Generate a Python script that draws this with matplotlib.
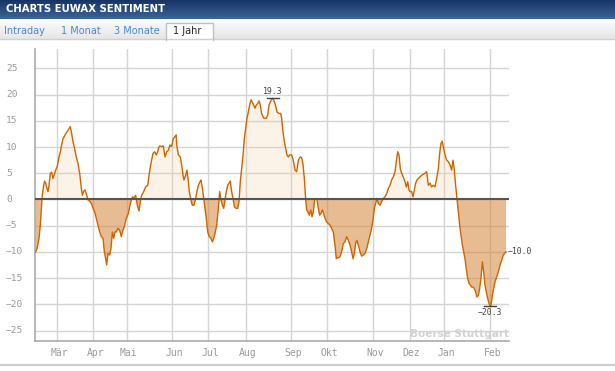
import matplotlib
matplotlib.use('Agg')
import matplotlib.pyplot as plt
import matplotlib.transforms as mtransforms
from matplotlib.colors import LinearSegmentedColormap
from matplotlib.patches import Rectangle
from matplotlib.lines import Line2D
import numpy as np

# days since start of the one-year window
days = [
    0.5, 1.5, 3.1, 4.1, 4.9, 5.6, 6.7, 7.4, 8.2, 9.2,
    10.0, 10.8, 11.8, 12.8, 13.9, 14.9, 15.9, 17.0, 18.5, 19.5,
    20.5, 21.6, 23.1, 24.6, 26.2, 27.2, 28.0, 29.3, 30.5, 31.8,
    33.1, 34.4, 35.7, 36.5, 37.5, 38.5, 39.5, 40.8, 42.1, 43.4,
    44.7, 46.0, 47.2, 48.5, 49.8, 51.1, 52.4, 53.4, 54.4, 55.2,
    56.2, 57.5, 58.5, 59.6, 60.6, 61.6, 62.6, 63.9, 65.2, 66.5,
    67.3, 68.8, 70.3, 71.9, 73.4, 75.0, 76.2, 77.5, 78.8, 80.1,
    81.1, 82.1, 83.7, 85.2, 86.8, 87.8, 88.8, 89.8, 90.9, 92.2,
    93.4, 94.5,
    95.0, 96.0, 97.5, 98.8, 100.1, 101.4, 102.7, 103.9, 105.2, 106.5,
    107.8, 108.6, 109.3, 110.4, 111.9, 112.9, 114.0, 114.7, 116.0, 117.0,
    118.1, 118.8, 120.1, 121.1, 122.4, 123.7, 124.7, 125.8, 127.1, 127.8,
    128.9, 129.9, 130.9, 131.9, 133.0, 134.2, 135.5, 136.6, 137.6, 138.6,
    139.9, 141.2, 142.2, 143.2, 144.3, 145.3, 146.3, 147.3, 148.4, 149.4,
    150.4, 151.4, 152.5, 153.5, 154.8, 156.1, 157.1, 158.1, 159.1, 160.2,
    161.2, 162.2, 163.2, 164.3, 165.3, 166.3, 167.4, 168.4, 169.4, 170.4,
    171.5, 172.5, 173.5, 174.5, 176.1, 178.1, 179.2, 180.2, 181.2, 182.2,
    183.3, 184.3, 185.3, 186.3, 187.9,
    189.2, 189.9, 191.0, 192.0, 193.0, 194.0, 195.1, 196.1, 197.6, 198.9,
    200.2, 201.5, 202.8, 204.1, 205.3, 206.4, 207.4, 208.4, 209.2, 210.2,
    211.2, 212.3, 213.3, 214.3, 215.3, 216.1, 217.1, 218.2, 219.2, 220.2,
    221.3, 222.3, 223.3, 224.6, 225.9, 227.2, 228.4, 229.7, 231.0, 232.0,
    233.1, 234.3, 235.4, 236.4, 237.4, 238.7, 240.0, 241.3, 242.6, 243.8,
    244.9, 245.9, 246.9, 247.9, 249.0, 250.3, 251.5, 252.8, 254.1, 255.4,
    256.7, 258.0, 259.2, 260.3, 261.3, 262.3, 263.3, 264.4, 265.7, 266.9,
    268.2, 269.5, 270.8, 272.1, 273.4, 274.6, 275.9, 277.2, 278.2, 279.3,
    280.3,
    281.3, 282.3, 283.6, 284.9, 285.9, 287.0, 288.0, 289.0, 290.0, 291.1,
    292.1, 293.1, 294.1, 295.2, 296.5, 297.7, 299.0, 300.3, 301.6, 302.9,
    304.2, 305.4, 306.7, 308.0, 309.3, 310.6, 311.6, 312.6, 313.6, 314.7,
    315.7, 317.0, 318.3, 319.6, 320.8, 321.9, 322.9, 323.9, 324.9, 326.0,
    327.0, 328.0, 329.1, 330.1, 331.1, 332.1, 333.2, 334.2, 335.2, 336.2,
    337.3, 338.3, 339.3, 340.3, 341.4, 342.4, 343.4, 344.5, 345.5, 346.5,
    347.5, 348.6, 349.6, 350.4, 351.1, 352.2, 353.2, 354.2, 355.5, 356.8,
    358.1, 359.4, 360.6, 361.9, 362.7,
]

sentiment = [
    -10.0, -9.4, -7.4, -4.9, -1.7, 0.8, 2.7, 3.5, 3.1, 2.1,
    1.5, 2.7, 5.0, 5.2, 4.0, 4.8, 5.6, 6.2, 8.1, 9.1,
    10.4, 11.6, 12.3, 12.9, 13.5, 13.9, 12.9, 11.0, 9.7, 8.1,
    6.9, 5.0, 2.1, 0.8, 1.6, 1.8, 1.1, -0.1, -0.3, -0.8,
    -1.7, -2.4, -3.6, -4.9, -6.2, -7.1, -7.4, -10.0, -11.3, -12.5,
    -10.3, -10.6, -9.4, -6.2, -7.4, -6.2, -6.2, -5.5, -5.9, -7.1,
    -6.2, -5.2, -3.6, -2.7, -0.8, 0.5, 0.3, 0.8, -1.1, -2.2,
    -0.4, 0.8, 1.5, 2.4, 2.7, 4.6, 6.2, 7.5, 8.8, 9.1,
    8.5, 9.1,
    9.7, 10.2, 10.1, 10.2, 8.1, 9.1, 9.4, 10.4, 10.1, 11.6,
    12.0, 12.3, 10.1, 8.5, 8.1, 6.6, 4.6, 3.7, 4.6, 5.6,
    3.4, 1.5, -0.1, -1.1, -1.1, 0.2, 1.5, 2.7, 3.4, 3.7,
    2.1, 0.2, -1.7, -3.6, -6.2, -7.1, -7.4, -8.1, -7.4, -6.5,
    -4.9, -1.7, 1.5, -0.1, -1.1, -1.7, -0.1, 1.5, 2.7, 3.1,
    3.5, 1.5, 0.2, -1.4, -1.7, -1.7, -0.4, 3.4, 5.9, 8.5,
    11.6, 13.5, 15.5, 16.7, 18.0, 19.0, 18.5, 18.0, 17.4, 18.0,
    18.3, 18.8, 18.0, 16.4, 15.5, 15.5, 16.1, 18.0, 18.6, 19.1,
    19.3, 18.6, 17.9, 16.7, 16.4,
    16.4, 15.5, 12.9, 11.0, 9.7, 8.5, 8.1, 8.5, 8.5, 7.5,
    5.6, 5.3, 7.5, 8.1, 8.0, 6.6, 4.0, 0.2, -2.0, -2.4,
    -3.0, -2.0, -3.3, -2.4, -0.1, 0.2, -0.1, -1.7, -3.0, -2.7,
    -2.0, -2.7, -3.6, -4.3, -4.6, -4.9, -5.5, -6.2, -8.7, -11.3,
    -11.1, -11.1, -10.6, -9.7, -8.4, -8.1, -7.1, -7.8, -8.7, -10.0,
    -11.3, -10.3, -8.4, -7.8, -8.7, -10.0, -10.8, -10.6, -10.3, -9.4,
    -8.1, -6.8, -5.5, -3.9, -1.7, -0.8, 0.2, -0.8, -1.1, -0.4,
    0.2, 0.5, 1.1, 2.1, 2.7, 3.7, 4.3, 5.3, 7.2, 9.1,
    8.5,
    5.9, 5.0, 4.3, 3.4, 2.4, 3.4, 1.8, 1.5, 1.5, 0.5,
    1.8, 3.1, 3.7, 4.0, 4.3, 4.6, 4.8, 5.0, 5.3, 2.7,
    3.1, 2.4, 2.7, 2.4, 4.0, 5.9, 8.8, 10.7, 11.1, 9.7,
    8.5, 7.5, 7.2, 6.6, 5.6, 7.5, 5.6, 2.7, 0.2, -2.4,
    -4.9, -6.8, -8.7, -10.0, -11.3, -13.2, -15.1, -16.0, -16.3, -16.7,
    -16.7, -17.0, -17.6, -18.6, -18.3, -17.0, -15.1, -11.9, -13.8, -16.3,
    -17.6, -18.9, -19.8, -20.3, -20.2, -18.3, -17.0, -15.7, -14.8, -13.8,
    -12.5, -11.6, -10.6, -10.2, -10.0,
]

month_days = [17.2, 44.9, 70.6, 105.7, 133.4, 162.1, 197.5, 225.0, 260.5, 288.5, 315.2, 350.6]
month_labels = ["Mär", "Apr", "Mai", "Jun", "Jul", "Aug", "Sep", "Okt", "Nov", "Dez", "Jan", "Feb"]
y_ticks = [25, 20, 15, 10, 5, 0, -5, -10, -15, -20, -25]

tabs = ["Intraday", "1 Monat", "3 Monate", "1 Jahr"]
tab_x = [4, 61, 114, 173]

W, H = 615, 371
MONO = 'DejaVu Sans Mono'


def box(x0, y0, x1, y1):
    # pixel box measured from the top-left -> figure fraction
    return [x0 / W, 1 - y1 / H, (x1 - x0) / W, (y1 - y0) / H]


def fmt(v):
    return f"{v:.1f}".replace('-', '\u2212')


fig = plt.figure(figsize=(W / 100, H / 100), dpi=100)
fig.patch.set_facecolor('white')

# header bar
hax = fig.add_axes(box(0, 0, W, 19))
hax.imshow(np.linspace(0, 1, 32).reshape(-1, 1), aspect='auto',
           cmap=LinearSegmentedColormap.from_list('hdr', ['#163566', '#3c6496']),
           extent=[0, 1, 0, 1])
hax.axis('off')
fig.text(6 / W, 1 - 9.5 / H, "CHARTS EUWAX SENTIMENT", color='white',
         weight='bold', size=7.3, ha='left', va='center')

# tab row
tax = fig.add_axes(box(0, 19, W, 39))
tax.imshow(np.linspace(0, 1, 32).reshape(-1, 1), aspect='auto',
           cmap=LinearSegmentedColormap.from_list('tab', ['#fdfdfd', '#e6e6e6']),
           extent=[0, 1, 0, 1])
tax.axis('off')
fig.add_artist(Line2D([0, 1], [1 - 39 / H] * 2, transform=fig.transFigure,
                      color='#d0d0d0', lw=1))
# active tab: white card, open at the bottom
fig.add_artist(Rectangle((166 / W, 1 - 40 / H), 47 / W, 17 / H, transform=fig.transFigure,
                         facecolor='white', edgecolor='none'))
fig.add_artist(Line2D([166 / W, 166 / W, 213 / W, 213 / W],
                      [1 - 40 / H, 1 - 23 / H, 1 - 23 / H, 1 - 40 / H],
                      transform=fig.transFigure, color='#c0c0c0', lw=1))
for name, x in zip(tabs, tab_x):
    fig.text(x / W, 1 - 30.5 / H, name, size=7, ha='left', va='center',
             color='#222222' if name == "1 Jahr" else '#4a88cc')

# page bottom rule
fig.add_artist(Line2D([0, 1], [1 - 365 / H] * 2, transform=fig.transFigure,
                      color='#cccccc', lw=1.5))

# main chart
ax = fig.add_axes(box(35, 49, 509, 341))
x = np.array(days)
y = np.array(sentiment)
ax.fill_between(x, y, 0, where=y >= 0, interpolate=True, color='#f0d0a0', alpha=0.25, lw=0)
ax.fill_between(x, y, 0, where=y <= 0, interpolate=True, color='#d4853a', alpha=0.55, lw=0)
ax.plot(x, y, color='#cc6600', lw=1.0, zorder=3)
ax.axhline(0, color='#555555', lw=1.5, zorder=4)

ax.set_xlim(0, 365)
ax.set_ylim(-27.0, 28.7)
ax.set_yticks(y_ticks)
ax.set_yticklabels([])
ax.set_xticks(month_days)
ax.set_xticklabels(month_labels, family=MONO, size=7, color='#999999')
ax.tick_params(axis='both', length=0)
ax.tick_params(axis='x', pad=5)
shift = mtransforms.ScaledTranslation(2 / 100, 0, fig.dpi_scale_trans)
for lbl in ax.get_xticklabels():
    lbl.set_transform(lbl.get_transform() + shift)
ax.grid(True, color='#d4d4d4', lw=1)
ax.set_axisbelow(True)
for s in ['top', 'right']:
    ax.spines[s].set_visible(False)
for s in ['left', 'bottom']:
    ax.spines[s].set_color('#aaaaaa')
    ax.spines[s].set_linewidth(1.2)

for v in y_ticks:
    ax.text(-29 / 474, v, fmt(v)[:-2], transform=ax.get_yaxis_transform(),
            ha='left', va='center', family=MONO, size=6.8, color='#999999')

# max / min / last annotations
imax, imin = int(np.argmax(y)), int(np.argmin(y))
ax.plot([x[imax] - 4.5, x[imax] + 4.5], [y[imax]] * 2, color='#444444', lw=1, zorder=5)
ax.annotate(fmt(y[imax]), (x[imax], y[imax]), xytext=(0, 1.5), textcoords='offset points',
            ha='center', va='bottom', family=MONO, size=5.9, color='#444444')
ax.plot([x[imin] - 4.5, x[imin] + 4.5], [y[imin]] * 2, color='#444444', lw=1, zorder=5)
ax.annotate(fmt(y[imin]), (x[imin], y[imin]), xytext=(0, -1.5), textcoords='offset points',
            ha='center', va='top', family=MONO, size=5.9, color='#444444')
ax.annotate(fmt(y[-1]), (x[-1], y[-1]), xytext=(1, 0), textcoords='offset points',
            ha='left', va='center', family=MONO, size=5.9, color='#444444',
            annotation_clip=False)

ax.text(1.0, 0.024, "Boerse Stuttgart", transform=ax.transAxes, ha='right', va='center',
        size=7.5, weight='bold', color='#d2d2d2')

fig.savefig('out.png', dpi=100)
